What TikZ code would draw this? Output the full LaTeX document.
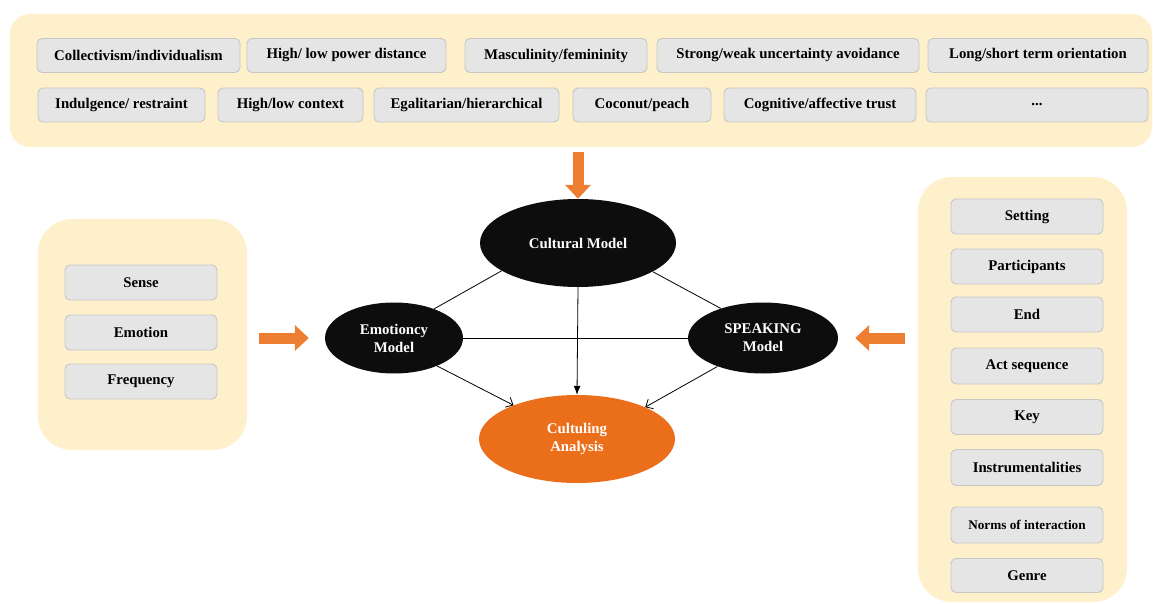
\documentclass[tikz,border=0pt]{standalone}
\usepackage{fontspec}
\setmainfont{Liberation Serif}
\usetikzlibrary{arrows.meta, shapes.geometric}

\definecolor{panelyellow}{HTML}{FFF0CC}
\definecolor{boxgray}{HTML}{E5E5E5}
\definecolor{boxline}{HTML}{C6C6C6}
\definecolor{arroworange}{HTML}{ED7D31}
\definecolor{analysisorange}{HTML}{EB6F1A}
\definecolor{modelblack}{HTML}{0D0D0D}

\newcommand{\itemfont}{\fontsize{14.8}{18}\selectfont\bfseries}

\tikzset{
	panel/.style={fill=panelyellow, draw=none, rounded corners=#1, inner sep=0pt},
	item/.style={fill=boxgray, draw=boxline, line width=0.9pt, rounded corners=5pt, minimum height=34pt, inner sep=0pt, font=\itemfont},
	model/.style={ellipse, fill=modelblack, text=white, align=center, inner sep=0pt, font=\itemfont},
	blockarrow/.style={arroworange, line width=11pt, -{Triangle[length=14pt,width=25pt]}},
	link/.style={black, line width=0.8pt}
}

\begin{document}
\begin{tikzpicture}[x=1pt, y=-1pt]
	\useasboundingbox (0,0) rectangle (1153,604);
	
	% --- PANELS ---
	\node[panel=20pt, minimum width=1142pt, minimum height=133pt] (culpanel) at (581,80.5) {};
	\node[panel=34pt, minimum width=209pt, minimum height=231pt] (senspanel) at (142.5,334.5) {};
	\node[panel=34pt, minimum width=209pt, minimum height=425pt] (speakpanel) at (1022.5,389.5) {};
	
	% Cultural dimensions, first row
	\node[item, minimum width=203pt] (collind) at (138.5,55.5) {Collectivism/individualism};
	\node[item, minimum width=199pt] (powdist) at (346.5,55.5) {High/ low power distance};
	\node[item, minimum width=182pt] (masfem) at (556,55.5) {Masculinity/femininity};
	\node[item, minimum width=262pt] (uncavoid) at (788,55.5) {Strong/weak uncertainty avoidance};
	\node[item, minimum width=220pt] (ltorient) at (1038,55.5) {Long/short term orientation};
	
	% Cultural dimensions, second row
	\node[item, minimum width=167pt] (indres) at (121.5,105) {Indulgence/ restraint};
	\node[item, minimum width=145pt] (hlcontext) at (290.5,105) {High/low context};
	\node[item, minimum width=185pt] (egahier) at (466.5,105) {Egalitarian/hierarchical};
	\node[item, minimum width=138pt] (cocpeach) at (642,105) {Coconut/peach};
	\node[item, minimum width=192pt] (cogaff) at (820,105) {Cognitive/affective trust};
	\node[item, minimum width=222pt] (etc) at (1037,105) {...};
	
	% Emotioncy components
	\node[item, minimum width=152pt, minimum height=35pt] (sense) at (141,282.5) {Sense};
	\node[item, minimum width=152pt, minimum height=35pt] (emotion) at (141,332.5) {Emotion};
	\node[item, minimum width=152pt, minimum height=35pt] (freq) at (141,381.5) {Frequency};
	
	% SPEAKING components
	\node[item, minimum width=152pt, minimum height=35pt] (setting) at (1027,216.5) {Setting};
	\node[item, minimum width=152pt, minimum height=35pt] (partic) at (1027,266.5) {Participants};
	\node[item, minimum width=152pt, minimum height=35pt] (ends) at (1027,314.5) {End};
	\node[item, minimum width=152pt, minimum height=36pt] (actseq) at (1027,366) {Act sequence};
	\node[item, minimum width=152pt, minimum height=35pt] (keys) at (1027,417) {Key};
	\node[item, minimum width=152pt, minimum height=36pt] (instr) at (1027,467.5) {Instrumentalities};
	\node[item, minimum width=152pt, minimum height=36pt, font=\fontsize{13.2}{16}\selectfont\bfseries] (norms) at (1027,525) {Norms of interaction};
	\node[item, minimum width=152pt, minimum height=34pt] (genre) at (1027,575.5) {Genre};
	
	% --- MODELS ---
	\node[model, minimum width=196pt, minimum height=88pt] (cultural) at (578,243) {Cultural Model};
	\node[model, minimum width=138pt, minimum height=71pt] (emotioncy) at (394,338) {Emotioncy\\Model};
	\node[model, minimum width=150pt, minimum height=71pt] (speaking) at (763,338) {SPEAKING\\Model};
	\node[model, fill=analysisorange, minimum width=196pt, minimum height=88pt] (culturing) at (577,439) {Cultuling\\Analysis};
	
	% Block arrows into the models
	\draw[blockarrow, shorten <=5pt] (culpanel.south -| cultural.north) -- (cultural.north);
	\draw[blockarrow, shorten <=12pt, shorten >=16pt] (senspanel.east |- emotioncy.west) -- (emotioncy.west);
	\draw[blockarrow, shorten <=13pt, shorten >=17pt] (speakpanel.west |- speaking.east) -- (speaking.east);
	
	% Links between the models
	\draw[link] (cultural.200) -- (emotioncy.36);
	\draw[link] (cultural.-21) -- (speaking.145);
	\draw[link] (emotioncy.east) -- (speaking.west);
	\draw[link, -{Latex[length=9pt,width=7pt]}] (cultural.south) -- (culturing.north);
	\draw[link, -{Straight Barb[length=6pt,width=11pt]}] (emotioncy.-33) -- (culturing.152);
	\draw[link, -{Straight Barb[length=6pt,width=11pt]}] (speaking.-148) -- (culturing.25);
\end{tikzpicture}
\end{document}
